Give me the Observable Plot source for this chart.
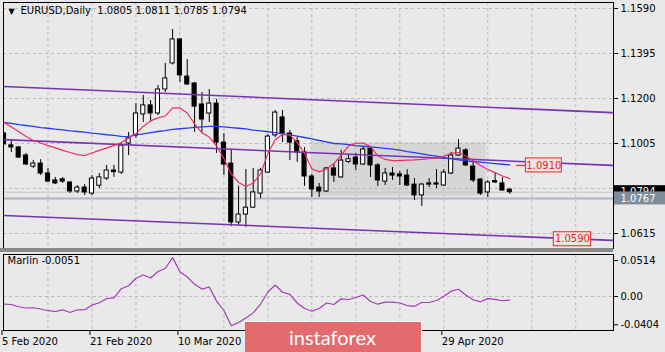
<!DOCTYPE html>
<html><head><meta charset="utf-8">
<script src="https://cdn.jsdelivr.net/npm/d3@7"></script>
<script src="https://cdn.jsdelivr.net/npm/@observablehq/plot@0.6"></script>
<style>
html,body{margin:0;padding:0;background:#e9e9e9;}
#wrap{position:relative;width:665px;height:352px;overflow:hidden;background:#e9e9e9;}
#wrap svg{position:absolute;left:0;}
#band{position:absolute;left:0;top:248px;width:613px;height:4px;background:#8a8a8a;}
#logo{position:absolute;left:245px;top:321px;width:176px;height:40px;background:#e36a6d;border-top:1px solid #fff;border-right:1px solid #fff;color:#fff;font-family:Lato,"Open Sans",sans-serif;font-size:20px;}
#logo span{position:absolute;left:44px;top:3px;}
</style></head><body><div id="wrap"></div>
<script>
// ---- data ----
const symbol = "EURUSD", period = "Daily";
const opens = [1.1048,1.0997,1.0988,1.0953,1.0905,1.0918,1.0875,1.0845,1.0850,1.0836,
1.0797,1.0814,1.0788,1.0822,1.0853,1.0888,1.0879,1.1005,1.1040,1.1131,
1.1170,1.1135,1.1239,1.1352,1.1456,1.1295,1.1265,1.1174,1.1135,1.1178,
1.1009,1.0918,1.0663,1.0697,1.0727,1.0788,1.0879,1.1040,1.1118,1.1048,
1.1015,1.0966,1.0862,1.0814,1.0797,1.0897,1.0858,1.0925,1.0944,1.0914,
1.0983,1.0910,1.0840,1.0875,1.0871,1.0866,1.0827,1.0780,1.0832,1.0832,
1.0823,1.0875,1.0953,1.0975,1.0905,1.0849,1.0793,1.0842,1.0832,1.0805];
const highs = [1.1052,1.1016,1.0992,1.0962,1.0932,1.0935,1.0897,1.0858,1.0858,1.0840,
1.0823,1.0827,1.0866,1.0875,1.0910,1.0910,1.1005,1.1053,1.1178,1.1213,
1.1191,1.1256,1.1352,1.1499,1.1460,1.1369,1.1269,1.1226,1.1239,1.1196,
1.1048,1.0975,1.0820,1.0892,1.0897,1.0897,1.1044,1.1148,1.1148,1.1061,
1.1031,1.0988,1.0871,1.0832,1.0901,1.0918,1.0975,1.0953,1.0962,1.0988,
1.0988,1.0918,1.0897,1.0901,1.0884,1.0892,1.0853,1.0832,1.0853,1.0892,
1.0892,1.0966,1.1022,1.0983,1.0923,1.0853,1.0845,1.0879,1.0858,1.0811];
const lows = [1.0997,1.0966,1.0940,1.0910,1.0897,1.0866,1.0836,1.0827,1.0832,1.0788,
1.0788,1.0780,1.0780,1.0810,1.0845,1.0858,1.0871,1.0953,1.1027,1.1096,
1.1096,1.1126,1.1226,1.1345,1.1269,1.1256,1.1053,1.1053,1.1096,1.0962,
1.0866,1.0645,1.0650,1.0641,1.0723,1.0767,1.0875,1.1031,1.1009,1.0931,
1.0923,1.0819,1.0771,1.0771,1.0793,1.0836,1.0854,1.0918,1.0888,1.0910,
1.0858,1.0819,1.0823,1.0845,1.0823,1.0819,1.0758,1.0732,1.0814,1.0810,
1.0819,1.0871,1.0949,1.0905,1.0836,1.0780,1.0771,1.0832,1.0801,1.0785];
const closes = [1.1001,1.0988,1.0944,1.0914,1.0918,1.0875,1.0840,1.0832,1.0840,1.0797,
1.0814,1.0793,1.0853,1.0858,1.0888,1.0881,1.0996,1.1027,1.1135,1.1170,
1.1135,1.1239,1.1287,1.1456,1.1300,1.1261,1.1165,1.1109,1.1178,1.1009,
1.0914,1.0663,1.0697,1.0727,1.0793,1.0888,1.1035,1.1139,1.1048,1.1009,
1.0966,1.0862,1.0806,1.0797,1.0897,1.0866,1.0931,1.0937,1.0914,1.0979,
1.0910,1.0845,1.0875,1.0866,1.0862,1.0823,1.0780,1.0827,1.0827,1.0827,
1.0879,1.0953,1.0983,1.0910,1.0845,1.0788,1.0836,1.0836,1.0801,1.0794];
const redMA = [1.1096,1.1077,1.1057,1.1035,1.1018,1.1007,1.0996,1.0986,1.0975,1.0966,
1.0957,1.0953,1.0964,1.0975,1.0986,1.0996,1.1009,1.1029,1.1048,1.1079,
1.1103,1.1116,1.1124,1.1159,1.1159,1.1137,1.1090,1.1051,1.1033,1.0994,
1.0940,1.0873,1.0836,1.0819,1.0834,1.0873,1.0962,1.1022,1.1044,1.1042,
1.1009,1.0962,1.0895,1.0882,1.0895,1.0918,1.0955,1.0994,1.1006,1.1007,
1.0992,1.0951,1.0936,1.0931,1.0931,1.0933,1.0934,1.0936,1.0939,1.0943,
1.0949,1.0962,1.0966,1.0951,1.0931,1.0910,1.0892,1.0879,1.0864,1.0853];
const blueMA = [1.1096,1.1092,1.1087,1.1083,1.1079,1.1074,1.1071,1.1067,1.1064,1.1060,
1.1057,1.1054,1.1050,1.1047,1.1043,1.1040,1.1036,1.1035,1.1042,1.1047,
1.1052,1.1057,1.1061,1.1066,1.1069,1.1072,1.1075,1.1077,1.1079,1.1079,
1.1077,1.1074,1.1071,1.1068,1.1063,1.1060,1.1056,1.1052,1.1047,1.1042,
1.1037,1.1031,1.1025,1.1018,1.1012,1.1005,1.1003,1.1000,1.0996,1.0993,
1.0990,1.0987,1.0984,1.0981,1.0976,1.0970,1.0965,1.0960,1.0955,1.0950,
1.0944,1.0939,1.0934,1.0930,1.0927,1.0924,1.0921,1.0918,1.0915,1.0912];
const marlin = [-0.0109,-0.0114,-0.0146,-0.0164,-0.0161,-0.0179,-0.0203,-0.0214,-0.0190,-0.0229,
-0.0190,-0.0189,-0.0124,-0.0089,-0.0031,-0.0021,0.0111,0.0154,0.0261,0.0307,
0.0264,0.0357,0.0400,0.0555,0.0353,0.0279,0.0174,0.0106,0.0136,-0.0066,
-0.0200,-0.0417,-0.0371,-0.0307,-0.0234,-0.0110,0.0064,0.0164,0.0061,0.0031,
-0.0093,-0.0171,-0.0210,-0.0171,-0.0093,-0.0114,-0.0033,-0.0043,-0.0014,0.0021,
-0.0071,-0.0110,-0.0081,-0.0081,-0.0093,-0.0129,-0.0140,-0.0086,-0.0086,-0.0057,
0.0003,0.0076,0.0103,0.0021,-0.0047,-0.0076,-0.0031,-0.0040,-0.0061,-0.0051];
const marlinName = "Marlin";
const dateTickIdx = [0, 12, 24, 60];
const dateLabels = ["5 Feb 2020", "21 Feb 2020", "10 Mar 2020", "29 Apr 2020"];
const priceTicks = [1.1590, 1.1395, 1.1200, 1.1005, 1.0810, 1.0615];
const subTicks = [0.0514, 0, -0.0404];
const subTickLabels = ["0.0514", "0.00", "-0.0404"];
const channelIdx = [0, 83];
const upperP = [1.1252, 1.1139];
const midP = [1.1022, 1.0910];
const lowerP = [1.0693, 1.0585];
const levelPrices = [1.0910, 1.0590];
const levelStart = [71.2, 75.0];
const levelEnd = [76.1, 80.1];
const levelLead = [69.9, null];
const zoneIdx = [41.9, 65.8];
const zonePrices = [1.0775, 1.1009];
const supportLevel = 1.0767;
const watermark = "instaforex";

// ---- build ----
const n = closes.length;
const candles = closes.map((c, i) => ({i, open: opens[i], high: highs[i], low: lows[i], close: c}));
const X0 = -0.07, X1 = 83.15;
const Y0 = 1.0550, Y1 = 1.1616;
const pxX = (X1 - X0) / 610;          // index units per px
const pxY = (Y1 - Y0) / 246;          // price units per px
const dash = {stroke: "#b9b9b9", strokeDasharray: "3,3"};
const gridIdx = d3.range(6, 80, 6);
const chan = (arr) => channelIdx.map((x, k) => ({x, p: arr[k]}));
const levels = levelPrices.map((p, k) => ({p, a: levelStart[k], b: levelEnd[k], lead: levelLead[k]}));
const last = candles[n - 1];
const f4 = d => d.toFixed(4);
const title = `${symbol},${period}  ${f4(last.open)} ${f4(last.high)} ${f4(last.low)} ${f4(last.close)}`;
const font = "DejaVu Sans, sans-serif";
const boxX1 = X1, boxX2 = X1 + 54 * pxX;
// axis labels that sit under the current-price box are not visible in the chart
const shownTicks = priceTicks.filter(t => Math.abs(t - last.close) > 8 * pxY);
const hiddenTicks = priceTicks.filter(t => !shownTicks.includes(t));

const main = Plot.plot({
  width: 665, height: 250,
  marginLeft: 3, marginRight: 52, marginTop: 2, marginBottom: 2,
  x: {type: "linear", domain: [X0, X1], axis: null, label: null},
  y: {domain: [Y0, Y1], axis: null, label: null},
  style: {background: "transparent", fontFamily: font, fontSize: "10px", color: "#000"},
  marks: [
    Plot.rect([0], {x1: () => zoneIdx[0], x2: () => zoneIdx[1], y1: () => zonePrices[0], y2: () => zonePrices[1], fill: "#d6d6d6"}),
    Plot.ruleX(gridIdx, dash),
    Plot.ruleY(priceTicks, dash),
    Plot.ruleY([last.close], {stroke: "#c6c6c6"}),
    Plot.ruleY([supportLevel], {stroke: "#aeb6bf", strokeWidth: 2}),
    Plot.ruleX(candles, {x: "i", y1: "low", y2: "high", stroke: "#000", clip: true}),
    Plot.rect(candles, {x1: d => d.i - 0.28, x2: d => d.i + 0.28, y1: "open", y2: "close",
      fill: d => d.close >= d.open ? "#ffffff" : "#000000", stroke: "#000", clip: true}),
    Plot.line(chan(upperP), {x: "x", y: "p", stroke: "#7634b2", strokeWidth: 1.6, clip: true}),
    Plot.line(chan(midP), {x: "x", y: "p", stroke: "#7634b2", strokeWidth: 1.6, clip: true}),
    Plot.line(chan(lowerP), {x: "x", y: "p", stroke: "#7634b2", strokeWidth: 1.6, clip: true}),
    Plot.line(blueMA.map((v, i) => ({i, v})), {x: "i", y: "v", stroke: "#2a3cf0", strokeWidth: 1.3}),
    Plot.line(redMA.map((v, i) => ({i, v})), {x: "i", y: "v", stroke: "#ee2f5c", strokeWidth: 1.2}),
    Plot.ruleY(levels.filter(d => d.lead != null), {y: "p", x1: "lead", x2: "a", stroke: "#ee2f3c", strokeWidth: 1.3}),
    Plot.rect(levels, {x1: "a", x2: "b", y1: d => d.p - 7 * pxY, y2: d => d.p + 7 * pxY, fill: "#eee4e4", stroke: "#ee2222"}),
    Plot.text(levels, {x: d => (d.a + d.b) / 2, y: "p", text: d => f4(d.p), fill: "#ee2222", fontSize: 10, fontFamily: font}),
    Plot.axisY(shownTicks, {anchor: "right", tickSize: 4, tickPadding: 3, tickFormat: f4, fontSize: 10, fontFamily: font, label: null}),
    Plot.ruleY(hiddenTicks, {x1: () => X1, x2: () => X1 + 4 * pxX, stroke: "#000"}),
    Plot.rect([last.close], {x1: () => boxX1, x2: () => boxX2, y1: d => d - 6.5 * pxY, y2: d => d + 6.5 * pxY, fill: "#000"}),
    Plot.text([last.close], {x: () => X1 + 7 * pxX, y: d => d, text: f4, fill: "#fff", textAnchor: "start", fontSize: 10, fontFamily: font}),
    Plot.rect([supportLevel], {x1: () => boxX1, x2: () => boxX2, y1: d => d - 6.5 * pxY, y2: d => d + 6.5 * pxY, fill: "#7f8c9a"}),
    Plot.text([supportLevel], {x: () => X1 + 7 * pxX, y: d => d, text: f4, fill: "#fff", textAnchor: "start", fontSize: 10, fontFamily: font}),
    Plot.frame({stroke: "#000"}),
    Plot.text(["\u25BC"], {frameAnchor: "top-left", dx: 8, dy: 6, text: d => d, fontSize: 8, textAnchor: "middle", lineAnchor: "top", fill: "#000"}),
    Plot.text([title], {frameAnchor: "top-left", dx: 17, dy: 4, text: d => d, textAnchor: "start", lineAnchor: "top", fontSize: 10, fontFamily: font, fill: "#000"})
  ]
});

const sub = Plot.plot({
  width: 665, height: 100,
  marginLeft: 3, marginRight: 52, marginTop: 2, marginBottom: 22,
  x: {type: "linear", domain: [X0, X1], axis: null, label: null},
  y: {domain: [-0.04857, 0.06], axis: null, label: null},
  style: {background: "transparent", fontFamily: font, fontSize: "10px", color: "#000"},
  marks: [
    Plot.ruleX(gridIdx, dash),
    Plot.ruleY([0], dash),
    Plot.line(marlin.map((v, i) => ({i, v})), {x: "i", y: "v", stroke: "#a53cb6", strokeWidth: 1.2}),
    Plot.axisY(subTicks, {anchor: "right", tickSize: 4, tickPadding: 3, tickFormat: d => subTickLabels[subTicks.indexOf(d)], fontSize: 10, fontFamily: font, label: null}),
    Plot.axisX(dateTickIdx, {anchor: "bottom", tickSize: 5, tickPadding: 2, textAnchor: "start", dx: -2, tickFormat: d => dateLabels[dateTickIdx.indexOf(d)], fontSize: 10, fontFamily: font, label: null}),
    Plot.frame({stroke: "#000"}),
    Plot.text([`${marlinName} ${marlin[n - 1].toFixed(4)}`], {frameAnchor: "top-left", dx: 4, dy: 2, text: d => d, textAnchor: "start", lineAnchor: "top", fontSize: 10, fontFamily: font, fill: "#000"})
  ]
});

const wrap = document.getElementById("wrap");
main.style.top = "0px";
sub.style.top = "252px";
wrap.appendChild(main);
const band = document.createElement("div"); band.id = "band"; wrap.appendChild(band);
wrap.appendChild(sub);
const logo = document.createElement("div"); logo.id = "logo";
const sp = document.createElement("span"); sp.textContent = watermark; logo.appendChild(sp);
wrap.appendChild(logo);
</script></body></html>
